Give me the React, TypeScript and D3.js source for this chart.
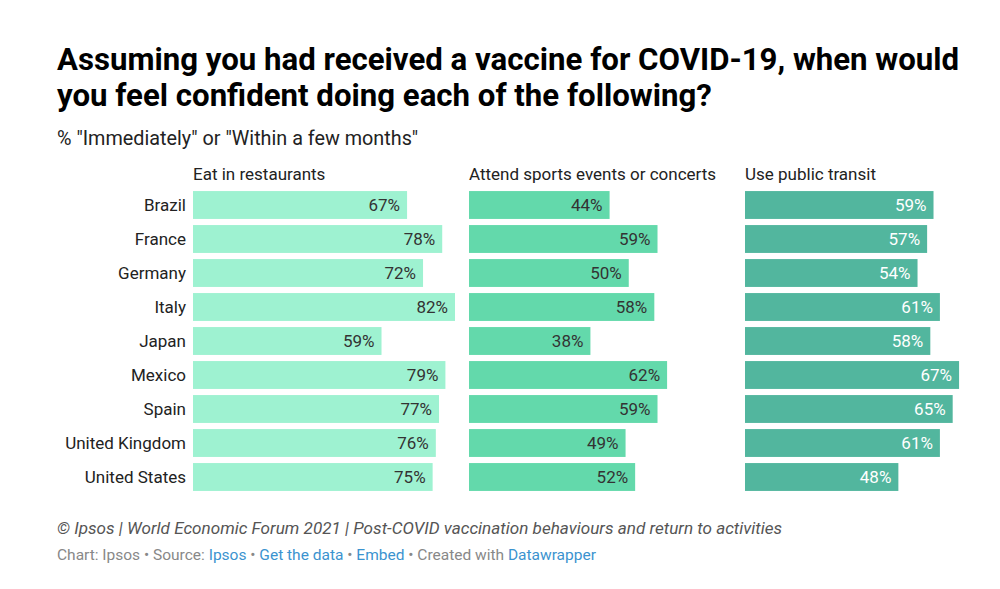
import { useEffect, useRef } from "react";
import * as d3 from "d3";

const countries = ["Brazil", "France", "Germany", "Italy", "Japan", "Mexico", "Spain", "United Kingdom", "United States"];
const columns = ["Eat in restaurants", "Attend sports events or concerts", "Use public transit"];
const restaurants = [67, 78, 72, 82, 59, 79, 77, 76, 75];
const sports = [44, 59, 50, 58, 38, 62, 59, 49, 52];
const transit = [59, 57, 54, 61, 58, 67, 65, 61, 48];
const colColors = ["#9ef2d1", "#63d9ab", "#52b69e"];
const labelColors = ["#333333", "#333333", "#ffffff"];

const W = 1000;
const H = 589;

const App = () => {
  const ref = useRef<SVGSVGElement>(null);

  useEffect(() => {
    const svg = d3.select(ref.current);
    svg.selectAll("*").remove();
    const font = "Roboto, sans-serif";

    // title
    const title = svg.append("text").attr("font-family", font).attr("font-weight", 700)
      .attr("font-size", 31.2).attr("fill", "#000");
    title.append("tspan").attr("x", 57).attr("y", 70).text("Assuming you had received a vaccine for COVID-19, when would");
    title.append("tspan").attr("x", 57).attr("y", 106).text("you feel confident doing each of the following?");

    svg.append("text").attr("x", 57).attr("y", 145).attr("font-family", font).attr("font-size", 19.8)
      .attr("fill", "#222").text('% "Immediately" or "Within a few months"');

    const data = [restaurants, sports, transit];
    const colX = d3.scaleOrdinal<number, number>().domain([0, 1, 2]).range([193, 469, 745]);
    const x = d3.scaleLinear().domain([0, 82]).range([0, 262]);
    const y = d3.scaleBand().domain(countries).range([188, 494]).paddingInner(0.18).paddingOuter(0.09);

    // country labels
    svg.append("g").selectAll("text").data(countries).join("text")
      .attr("x", 186).attr("y", (d) => (y(d) ?? 0) + y.bandwidth() / 2)
      .attr("dy", "0.35em").attr("text-anchor", "end")
      .attr("font-family", font).attr("font-size", 17).attr("fill", "#222").text((d) => d);

    data.forEach((vals, ci) => {
      const g = svg.append("g").attr("transform", `translate(${colX(ci)},0)`);
      g.append("text").attr("x", 0).attr("y", 180).attr("font-family", font).attr("font-size", 17)
        .attr("fill", "#222").text(columns[ci]);
      const rows = g.selectAll("g.row").data(vals).join("g").attr("class", "row");
      rows.append("rect")
        .attr("x", 0).attr("y", (_, i) => y(countries[i]) ?? 0)
        .attr("width", (d) => x(d)).attr("height", y.bandwidth())
        .attr("fill", colColors[ci]);
      rows.append("text")
        .attr("x", (d) => x(d) - 7).attr("y", (_, i) => (y(countries[i]) ?? 0) + y.bandwidth() / 2)
        .attr("dy", "0.35em").attr("text-anchor", "end")
        .attr("font-family", font).attr("font-size", 17).attr("fill", labelColors[ci])
        .text((d) => `${d}%`);
    });

    // footer
    svg.append("text").attr("x", 57).attr("y", 534).attr("font-family", font).attr("font-style", "italic")
      .attr("font-size", 17.1).attr("fill", "#555")
      .text("© Ipsos | World Economic Forum 2021 | Post-COVID vaccination behaviours and return to activities");

    const foot = svg.append("text").attr("x", 57).attr("y", 560).attr("font-family", font)
      .attr("font-size", 15.5).attr("fill", "#888");
    const parts: [string, boolean][] = [
      ["Chart: Ipsos • Source: ", false], ["Ipsos", true], [" • ", false], ["Get the data", true],
      [" • ", false], ["Embed", true], [" • Created with ", false], ["Datawrapper", true],
    ];
    parts.forEach(([t, link]) => {
      foot.append("tspan").attr("fill", link ? "#3b93cf" : "#888").text(t);
    });
  }, []);

  return (
    <div style={{ margin: -8, background: "#fff" }}>
      <svg ref={ref} width={W} height={H}></svg>
    </div>
  );
};

export default App;
